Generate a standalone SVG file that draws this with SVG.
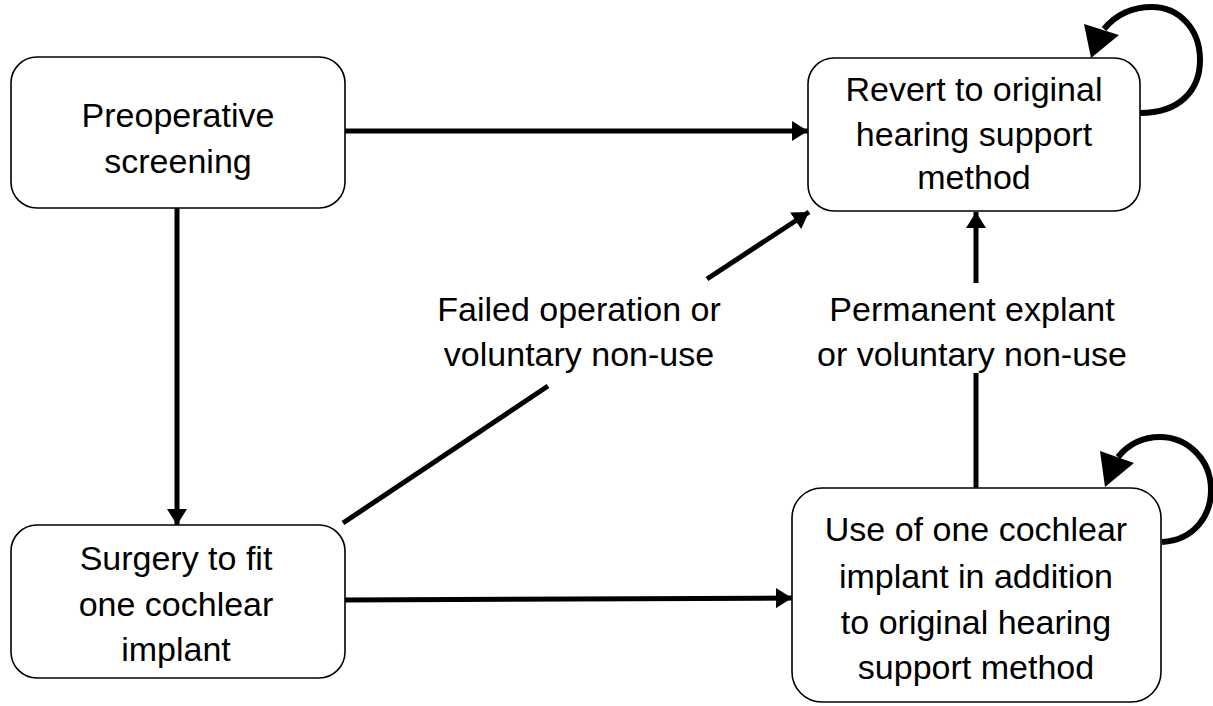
<svg xmlns="http://www.w3.org/2000/svg" width="1213" height="706" viewBox="0 0 1213 706">
<style>
.box{fill:#fff;stroke:#000;stroke-width:1.6}
.t{font-family:"Liberation Sans",Arial,sans-serif;font-size:34px;fill:#000;text-anchor:middle}
.c{fill:none;stroke:#000;stroke-width:5}
.loop{fill:none;stroke:#000;stroke-width:6}
</style>
<defs>
<marker id="ah" viewBox="0 0 16 20" refX="16" refY="10" markerWidth="16" markerHeight="20" markerUnits="userSpaceOnUse" orient="auto">
<path d="M0,0 L16,10 L0,20 Z" fill="#000"/>
</marker>
</defs>
<rect width="1213" height="706" fill="#fff"/>
<g id="connectors">
<line class="c" x1="345" y1="131" x2="808" y2="131" marker-end="url(#ah)"/>
<line class="c" x1="177" y1="208" x2="177" y2="525" marker-end="url(#ah)"/>
<line class="c" x1="345" y1="600" x2="792" y2="598" marker-end="url(#ah)"/>
<line class="c" x1="343" y1="523" x2="548" y2="386"/>
<line class="c" x1="707" y1="279" x2="809" y2="212" marker-end="url(#ah)"/>
<line class="c" x1="976" y1="488" x2="976" y2="373"/>
<line class="c" x1="976" y1="283" x2="976" y2="212" marker-end="url(#ah)"/>
<path class="loop" d="M1140,113 C1180,113 1200,90 1200,60 C1200,28 1178,7 1152,7 C1130,7 1114,17 1104,29"/>
<polygon points="1084,24 1119,35 1091,58" fill="#000"/>
<path class="loop" d="M1162,542 C1195,540 1211,515 1211,490 C1211,458 1186,437 1160,437 C1140,437 1127,446 1118,457"/>
<polygon points="1100,451 1134,463 1105,487" fill="#000"/>
<text class="t" x="579" y="321">Failed operation or</text>
<text class="t" x="579" y="366">voluntary non-use</text>
<text class="t" x="972" y="321">Permanent explant</text>
<text class="t" x="972" y="366">or voluntary non-use</text>
</g>
<g id="preop">
<rect class="box" x="11" y="57" width="334" height="151" rx="26"/>
<text class="t" x="178" y="127">Preoperative</text>
<text class="t" x="178" y="173">screening</text>
</g>
<g id="revert">
<rect class="box" x="808" y="58" width="332" height="153" rx="26"/>
<text class="t" x="974" y="101">Revert to original</text>
<text class="t" x="974" y="146">hearing support</text>
<text class="t" x="974" y="189">method</text>
</g>
<g id="surgery">
<rect class="box" x="11" y="525" width="334" height="153" rx="26"/>
<text class="t" x="176" y="570">Surgery to fit</text>
<text class="t" x="176" y="616">one cochlear</text>
<text class="t" x="176" y="661">implant</text>
</g>
<g id="use">
<rect class="box" x="792" y="488" width="369" height="214" rx="30"/>
<text class="t" x="976" y="541">Use of one cochlear</text>
<text class="t" x="976" y="588">implant in addition</text>
<text class="t" x="976" y="634">to original hearing</text>
<text class="t" x="976" y="679">support method</text>
</g>
</svg>
